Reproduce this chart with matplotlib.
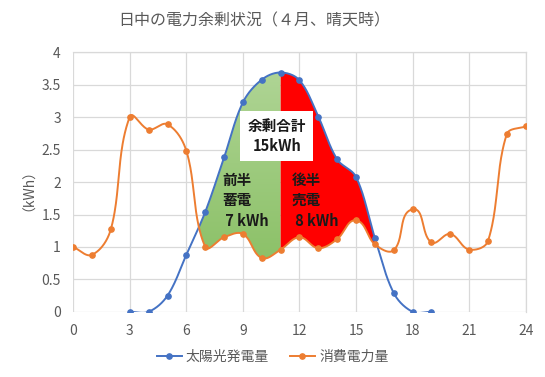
import numpy as np
import matplotlib
matplotlib.use("Agg")
import matplotlib.pyplot as plt
from matplotlib.lines import Line2D
from matplotlib.colors import LinearSegmentedColormap
from matplotlib.patches import PathPatch
from matplotlib.path import Path

plt.rcParams['font.family'] = ['Noto Sans CJK JP', 'DejaVu Sans']

title = "日中の電力余剰状況（４月、晴天時）"
ylabel = "（kWh）"
solar_name = "太陽光発電量"
cons_name = "消費電力量"

solar_hours = list(range(3, 20))
solar_vals = [0, 0, 0.25, 0.88, 1.54, 2.38, 3.23, 3.58, 3.69, 3.57, 3.01, 2.35, 2.08, 1.14, 0.29, 0, 0]

cons_hours = list(range(0, 25))
cons_vals = [1.00, 0.88, 1.28, 3.01, 2.81, 2.89, 2.48, 1.00, 1.15, 1.20, 0.83, 0.96,
             1.15, 0.98, 1.12, 1.41, 1.04, 0.95, 1.58, 1.07, 1.20, 0.96, 1.09, 2.74, 2.86]

xticks = [0, 3, 6, 9, 12, 15, 18, 21, 24]
yticks = [0, 0.5, 1, 1.5, 2, 2.5, 3, 3.5, 4]
ytick_labels = ["0", "0.5", "1", "1.5", "2", "2.5", "3", "3.5", "4"]

split_hour = 11
box_text = "余剰合計\n15kWh"
first_text = "前半\n蓄電\n 7 kWh"
second_text = "後半\n売電\n 8 kWh"

BLUE = "#4472c4"
ORANGE = "#ed7d31"
GRAY = "#595959"

# pixel scale of axes (for screen-space smoothing like Excel)
SX, SY = 18.9, 64.85


def smooth(xs, ys, n=40):
    P = np.column_stack([np.asarray(xs, float) * SX, np.asarray(ys, float) * SY])
    m = len(P)
    tang = np.zeros_like(P)
    for i in range(m):
        a = P[max(i - 1, 0)]
        b = P[min(i + 1, m - 1)]
        d = b - a
        L = np.hypot(*d)
        tang[i] = d / L if L > 0 else 0
    out = []
    for i in range(m - 1):
        p0, p3 = P[i], P[i + 1]
        seg = np.hypot(*(p3 - p0))
        c1 = p0 + tang[i] * seg / 3.0
        c2 = p3 - tang[i + 1] * seg / 3.0
        t = np.linspace(0, 1, n, endpoint=(i == m - 2))[:, None]
        B = ((1 - t) ** 3) * p0 + 3 * ((1 - t) ** 2) * t * c1 + 3 * (1 - t) * t ** 2 * c2 + t ** 3 * p3
        out.append(B)
    B = np.concatenate(out)
    return B[:, 0] / SX, B[:, 1] / SY


fig = plt.figure(figsize=(5.45, 3.77), dpi=100)
ax = fig.add_axes([0.1345, 0.173, 0.830, 0.688])

sx, sy = smooth(solar_hours, solar_vals)
cx, cy = smooth(cons_hours, cons_vals)

fx = np.linspace(solar_hours[0], solar_hours[-1], 4000)
o1 = np.argsort(sx, kind="stable")
o2 = np.argsort(cx, kind="stable")
fs = np.interp(fx, sx[o1], sy[o1])
fc = np.interp(fx, cx[o2], cy[o2])
surplus = fs > fc
mask1 = surplus & (fx <= split_hour)
mask2 = surplus & (fx >= split_hour)

poly = ax.fill_between(fx, fc, fs, where=mask1, interpolate=True,
                       facecolor="none", edgecolor="none", zorder=1)
grad = np.linspace(0, 1, 256).reshape(-1, 1)
cmap = LinearSegmentedColormap.from_list("g", ["#8cc168", "#b0d596"])
im = ax.imshow(grad, extent=[0, 24, 0.8, 3.8], origin="lower", aspect="auto",
               cmap=cmap, zorder=1)
paths = poly.get_paths()
if paths:
    verts = np.concatenate([p.vertices for p in paths])
    codes = np.concatenate([p.codes if p.codes is not None else
                            [Path.MOVETO] + [Path.LINETO] * (len(p.vertices) - 1)
                            for p in paths])
    clip = PathPatch(Path(verts, codes), transform=ax.transData, facecolor="none",
                     edgecolor="none")
    ax.add_patch(clip)
    im.set_clip_path(clip)
ax.fill_between(fx, fc, fs, where=mask2, interpolate=True,
                facecolor="#ff0000", edgecolor="none", zorder=1)

ax.plot(sx, sy, color=BLUE, lw=1.4, zorder=3)
ax.plot(solar_hours, solar_vals, "o", color=BLUE, ms=3.8, zorder=4)
ax.plot(cx, cy, color=ORANGE, lw=1.4, zorder=3)
ax.plot(cons_hours, cons_vals, "o", color=ORANGE, ms=3.8, zorder=4)

ax.set_xlim(0, 24)
ax.set_ylim(0, 4)
ax.set_xticks(xticks)
ax.set_yticks(yticks)
ax.set_yticklabels(ytick_labels)
ax.tick_params(axis="x", length=0, labelsize=10, colors=GRAY, pad=9)
ax.tick_params(axis="y", length=0, labelsize=10, colors=GRAY, pad=9)
ax.grid(True, color="#d9d9d9", lw=0.9, zorder=0)
ax.set_axisbelow(True)
for s in ax.spines.values():
    s.set_visible(False)
ax.axvline(24, color="#d9d9d9", lw=0.9, zorder=0, clip_on=False)
ax.axhline(4, color="#d9d9d9", lw=0.9, zorder=0, clip_on=False)

ax.text(10.8, 2.71, box_text, ha="center", va="center", fontsize=10.5,
        fontweight="bold", color="#1a1a1a", linespacing=1.3, zorder=5,
        bbox=dict(boxstyle="square,pad=0.5", facecolor="white", edgecolor="none"))
ax.text(7.9, 1.72, first_text, ha="left", va="center", fontsize=10.5,
        fontweight="bold", color="#1a1a1a", linespacing=1.35, zorder=5)
ax.text(11.6, 1.72, second_text, ha="left", va="center", fontsize=10.5,
        fontweight="bold", color="#1a1a1a", linespacing=1.35, zorder=5)

fig.text(0.466, 0.945, title, ha="center", va="center", fontsize=11.5, color=GRAY)
fig.text(0.04, 0.515, ylabel, ha="center", va="center", rotation=90,
         fontsize=10, color=GRAY)

handles = [Line2D([], [], color=BLUE, marker="o", ms=3.8, lw=1.4),
           Line2D([], [], color=ORANGE, marker="o", ms=3.8, lw=1.4)]
leg = fig.legend(handles, [solar_name, cons_name], loc="center",
                 bbox_to_anchor=(0.5, 0.053), ncol=2, frameon=False,
                 fontsize=10, handlelength=1.8, columnspacing=1.5,
                 handletextpad=0.3)
for t in leg.get_texts():
    t.set_color(GRAY)

fig.savefig("out.png", dpi=100)
